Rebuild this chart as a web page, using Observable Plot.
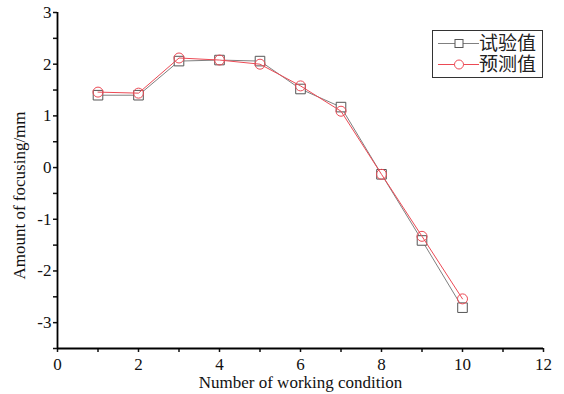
<!DOCTYPE html>
<html><head><meta charset="utf-8">
<script src="https://cdn.jsdelivr.net/npm/d3@7"></script>
<script src="https://cdn.jsdelivr.net/npm/@observablehq/plot@0.6"></script>
<style>
@font-face{font-family:"LegendCJK";src:local("Noto Sans CJK SC"),local("Noto Sans CJK SC Regular"),local("NotoSansCJKsc-Regular");ascent-override:88%;descent-override:12%;line-gap-override:0%;}
body{margin:0;background:#fff;}
#wrap{position:relative;width:564px;height:394px;}
.legend{position:absolute;left:432px;top:30px;width:109px;height:46px;border:1px solid #333;background:#fff;}
.legend svg{position:absolute;left:5px;top:2px;}
.legend .row{position:absolute;left:46px;font-family:"LegendCJK","Noto Sans CJK SC";font-size:19px;line-height:20px;height:20px;color:#222;white-space:nowrap;}
</style></head>
<body><div id="wrap"></div>
<script>
const conditions = [1, 2, 3, 4, 5, 6, 7, 8, 9, 10];
const testValues = [1.40, 1.40, 2.06, 2.08, 2.06, 1.52, 1.17, -0.13, -1.41, -2.71];
const predictedValues = [1.46, 1.44, 2.12, 2.08, 2.00, 1.58, 1.09, -0.13, -1.33, -2.54];
const seriesNames = ["试验值", "预测值"];
const xTicks = [0, 2, 4, 6, 8, 10, 12];
const xMinorTicks = [1, 3, 5, 7, 9, 11];
const yTicks = [-3, -2, -1, 0, 1, 2, 3];
const yMinorTicks = [-3.5, -2.5, -1.5, -0.5, 0.5, 1.5, 2.5];
const xTitle = "Number of working condition";
const yTitle = "Amount of focusing/mm";

const testColor = "#808080", testMarker = "#555";
const predColor = "#ec4a55";

const testData = conditions.map((c, i) => ({x: c, y: testValues[i]}));
const predData = conditions.map((c, i) => ({x: c, y: predictedValues[i]}));
const fmt = d => String(d);

const chart = Plot.plot({
  width: 564, height: 394,
  marginLeft: 57, marginRight: 21, marginTop: 12, marginBottom: 46,
  style: {fontFamily: "Liberation Serif", fontSize: "17px", color: "#111", background: "#fff"},
  x: {domain: [0, 12]},
  y: {domain: [-3.5, 3]},
  marks: [
    Plot.axisX({ticks: xTicks, tickFormat: fmt, tickSize: 4, tickPadding: 5, strokeWidth: 1.5, label: xTitle, labelAnchor: "center", labelArrow: "none", labelOffset: 39}),
    Plot.axisX(xMinorTicks, {tickSize: 4, strokeWidth: 1.5, tickFormat: () => "", label: null}),
    Plot.axisY({ticks: yTicks, tickFormat: fmt, tickSize: 4, tickPadding: 2, strokeWidth: 1.5, label: null}),
    Plot.axisY(yMinorTicks, {tickSize: 4, strokeWidth: 1.5, tickFormat: () => "", label: null}),
    Plot.text([yTitle], {frameAnchor: "left", textAnchor: "middle", rotate: -90, dx: -38, dy: 15, text: d => d, fontSize: 17, fill: "#111"}),
    Plot.ruleX([0], {stroke: "#000", strokeWidth: 1.8}),
    Plot.ruleY([-3.5], {stroke: "#000", strokeWidth: 1.8}),
    Plot.line(testData, {x: "x", y: "y", stroke: testColor, strokeWidth: 1}),
    Plot.dot(testData, {x: "x", y: "y", symbol: "square", r: 5.4, stroke: testMarker, fill: "white", strokeWidth: 1}),
    Plot.line(predData, {x: "x", y: "y", stroke: predColor, strokeWidth: 1}),
    Plot.dot(predData, {x: "x", y: "y", symbol: "circle", r: 5, stroke: predColor, fill: "white", fillOpacity: 0, strokeWidth: 1})
  ]
});
const wrap = document.getElementById("wrap");
wrap.appendChild(chart);

const legend = document.createElement("div");
legend.className = "legend";
legend.innerHTML =
  `<svg width="41" height="42">` +
  `<line x1="0" x2="41" y1="10.5" y2="10.5" stroke="${testColor}"/>` +
  `<rect x="17" y="6.5" width="8" height="8" fill="white" stroke="${testMarker}"/>` +
  `<line x1="0" x2="41" y1="31.5" y2="31.5" stroke="${predColor}"/>` +
  `<circle cx="21" cy="31.5" r="4.5" fill="white" stroke="${predColor}"/>` +
  `</svg><div class="row" style="top:2px">${seriesNames[0]}</div><div class="row" style="top:23px">${seriesNames[1]}</div>`;
wrap.appendChild(legend);
</script>
</body></html>
